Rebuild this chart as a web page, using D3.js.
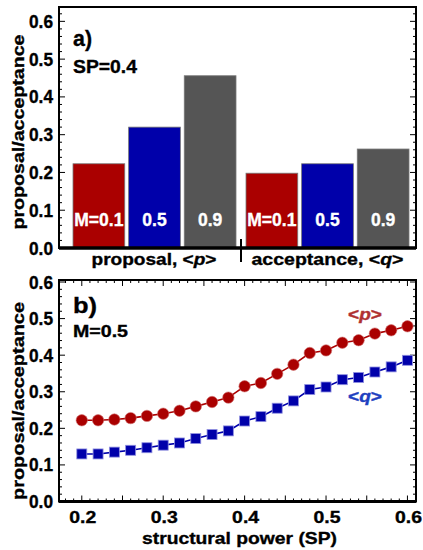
<!DOCTYPE html>
<html>
<head>
<meta charset="utf-8">
<script src="https://cdn.jsdelivr.net/npm/d3@7.9.0/dist/d3.min.js"></script>
<style>
  body { margin: 0; background: #fff; }
  svg { display: block; font-family: "Liberation Sans", Arial, sans-serif; font-weight: bold; }
</style>
</head>
<body>
<svg id="chart" width="423" height="550"></svg>
<script>
// panel a data
const groups = ['proposal', 'acceptance'];
const mValues = ['0.1', '0.5', '0.9'];
const proposalBars = [0.223, 0.320, 0.456];
const acceptanceBars = [0.198, 0.223, 0.262];
const barColors = ['#aa0000', '#0000aa', '#555555'];

// panel b data
const sp = [0.20, 0.22, 0.24, 0.26, 0.28, 0.30, 0.32, 0.34, 0.36, 0.38, 0.40,
            0.42, 0.44, 0.46, 0.48, 0.50, 0.52, 0.54, 0.56, 0.58, 0.60];
const pMean = [0.222, 0.222, 0.224, 0.228, 0.234, 0.240, 0.248, 0.260, 0.272, 0.284, 0.315,
               0.324, 0.349, 0.374, 0.406, 0.413, 0.434, 0.441, 0.459, 0.468, 0.479];
const qMean = [0.130, 0.130, 0.135, 0.140, 0.147, 0.154, 0.160, 0.172, 0.183, 0.193, 0.220,
               0.232, 0.255, 0.275, 0.306, 0.313, 0.333, 0.339, 0.354, 0.368, 0.386];
const yTicks = [0, 0.1, 0.2, 0.3, 0.4, 0.5, 0.6];
const xTicks = [0.2, 0.3, 0.4, 0.5, 0.6];

const svg = d3.select('#chart');
const L = 59, R = 416;

// text stretched a bit wider than Liberation Sans, like the original
function label(g, x, y, size, len, anchor) {
  const t = g.append('text').attr('x', x).attr('y', y)
    .attr('font-size', size).attr('text-anchor', anchor || 'start')
    .attr('stroke', 'currentColor').attr('stroke-width', 0.35);
  if (len) t.attr('textLength', len).attr('lengthAdjust', 'spacingAndGlyphs');
  return t;
}

function frameTicks(g, y, top, bottom) {
  d3.range(0, 0.64, 0.02).forEach(v => {
    const major = Math.abs(v * 10 - Math.round(v * 10)) < 1e-6;
    const len = major ? 6 : 3;
    if (y(v) < top + 1 || y(v) > bottom - 1) return;
    g.append('line').attr('x1', L).attr('x2', L + len).attr('y1', y(v)).attr('y2', y(v))
      .attr('stroke', '#000').attr('stroke-width', 1);
    g.append('line').attr('x1', R).attr('x2', R - len).attr('y1', y(v)).attr('y2', y(v))
      .attr('stroke', '#000').attr('stroke-width', 1);
  });
}

// ---------- panel a ----------
const yA = d3.scaleLinear().domain([0, 0.638]).range([248, 7]);
const xG = d3.scaleBand().domain(groups).range([68, 414]);
const xM = d3.scaleBand().domain(mValues).range([0, xG.bandwidth()])
  .paddingInner(0.07).paddingOuter(0.09);

const a = svg.append('g');

const barsData = [];
groups.forEach((grp, gi) => {
  const vals = gi === 0 ? proposalBars : acceptanceBars;
  vals.forEach((v, i) => barsData.push({ grp, m: mValues[i], v, i }));
});

a.selectAll('rect.bar').data(barsData).join('rect')
  .attr('class', 'bar')
  .attr('x', d => xG(d.grp) + xM(d.m))
  .attr('width', xM.bandwidth())
  .attr('y', d => yA(d.v))
  .attr('height', d => yA(0) - yA(d.v))
  .attr('fill', d => barColors[d.i])
  .attr('stroke', '#777').attr('stroke-width', 0.8);

barsData.forEach(d => {
  label(a, xG(d.grp) + xM(d.m) + xM.bandwidth() / 2, 226, 17.5, null, 'middle')
    .attr('fill', '#fff').attr('color', '#fff')
    .text(d.i === 0 ? 'M=' + d.m : d.m);
});

frameTicks(a, yA, 7, 248);
a.append('rect').attr('x', L).attr('y', 7).attr('width', R - L).attr('height', 248 - 7)
  .attr('fill', 'none').attr('stroke', '#000').attr('stroke-width', 2);
a.append('line').attr('x1', L).attr('x2', R).attr('y1', 248).attr('y2', 248)
  .attr('stroke', '#000').attr('stroke-width', 3.5);
a.append('line').attr('x1', xG('acceptance')).attr('x2', xG('acceptance'))
  .attr('y1', 239).attr('y2', 262).attr('stroke', '#000').attr('stroke-width', 2);

yTicks.forEach(v => label(a, 53, yA(v) + 6.5, 17.5, 24, 'end').text(v.toFixed(1)));

const catLabels = [['proposal, <', 'p', '>'], ['acceptance, <', 'q', '>']];
const catLen = [125, 152];
groups.forEach((grp, gi) => {
  const t = label(a, xG(grp) + xG.bandwidth() / 2 + (gi === 0 ? -0.5 : 0), 265, 17, catLen[gi], 'middle');
  t.append('tspan').text(catLabels[gi][0]);
  t.append('tspan').attr('font-style', 'italic').text(catLabels[gi][1]);
  t.append('tspan').text(catLabels[gi][2]);
});

label(a, 73, 46, 22.5, 19).text('a)');
label(a, 73, 73, 18.5, 64).text('SP=0.4');
label(a, 0, 0, 16, 195, 'middle').attr('transform', 'translate(24,132) rotate(-90)')
  .text('proposal/acceptance');

// ---------- panel b ----------
const T = 280, B = 501.5;
const xB = d3.scaleLinear().domain([0.172, 0.6105]).range([L, R]);
const yB = d3.scaleLinear().domain([0, 0.6055]).range([B, T]);
const b = svg.append('g');

frameTicks(b, yB, T, B);
d3.range(0.18, 0.611, 0.01).forEach(v => {
  const major = Math.abs(v * 20 - Math.round(v * 20)) < 1e-6;
  const len = major ? 6 : 3;
  b.append('line').attr('x1', xB(v)).attr('x2', xB(v)).attr('y1', B).attr('y2', B - len)
    .attr('stroke', '#000');
  b.append('line').attr('x1', xB(v)).attr('x2', xB(v)).attr('y1', T).attr('y2', T + len)
    .attr('stroke', '#000');
});
b.append('rect').attr('x', L).attr('y', T).attr('width', R - L).attr('height', B - T)
  .attr('fill', 'none').attr('stroke', '#000').attr('stroke-width', 2);
b.append('line').attr('x1', L).attr('x2', R).attr('y1', B).attr('y2', B)
  .attr('stroke', '#000').attr('stroke-width', 3);

const line = d3.line().x(d => xB(d[0])).y(d => yB(d[1]));
const pPts = sp.map((s, i) => [s, pMean[i]]);
const qPts = sp.map((s, i) => [s, qMean[i]]);

b.append('path').datum(pPts).attr('d', line).attr('fill', 'none')
  .attr('stroke', '#aa0000').attr('stroke-width', 1.6);
b.append('path').datum(qPts).attr('d', line).attr('fill', 'none')
  .attr('stroke', '#0000aa').attr('stroke-width', 1.6);

b.selectAll('circle').data(pPts).join('circle')
  .attr('cx', d => xB(d[0])).attr('cy', d => yB(d[1])).attr('r', 5.7)
  .attr('fill', '#aa0000').attr('stroke', '#d07070').attr('stroke-width', 0.6);
b.selectAll('rect.sq').data(qPts).join('rect')
  .attr('class', 'sq')
  .attr('x', d => xB(d[0]) - 5).attr('y', d => yB(d[1]) - 5)
  .attr('width', 10).attr('height', 10)
  .attr('fill', '#0000aa').attr('stroke', '#9090e0').attr('stroke-width', 0.8);

yTicks.forEach(v => label(b, 53, yB(v) + 6.5, 17.5, 24, 'end').text(v.toFixed(1)));
xTicks.forEach(v => label(b, xB(v) + 1, 522.5, 17, 27, 'middle').text(v.toFixed(1)));

label(b, 239.5, 544, 17, 195, 'middle').text('structural power (SP)');
label(b, 0, 0, 16, 198, 'middle').attr('transform', 'translate(24,401) rotate(-90)')
  .text('proposal/acceptance');
label(b, 73, 313, 22.5, 24).text('b)');
label(b, 73, 337, 16.5, 55).text('M=0.5');

function seriesLabel(x, y, letter, color) {
  const t = label(b, x, y, 16, 34, 'middle').attr('fill', color).attr('color', color);
  t.append('tspan').text('<');
  t.append('tspan').attr('font-style', 'italic').text(letter);
  t.append('tspan').text('>');
}
seriesLabel(365, 320, 'p', '#b03030');
seriesLabel(365, 402, 'q', '#2040c0');
</script>
</body>
</html>
